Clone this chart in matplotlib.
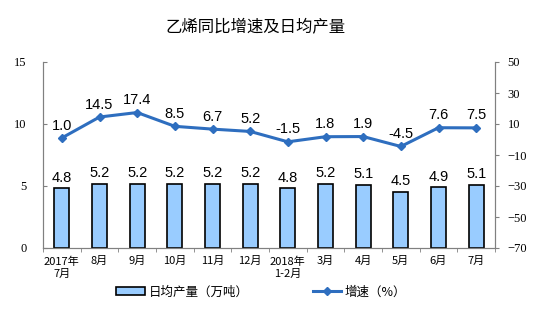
import numpy as np
import matplotlib.pyplot as plt

# %% data
# -------
months = ['2017年\n7月', '8月', '9月', '10月', '11月', '12月', '2018年\n1-2月',
          '3月', '4月', '5月', '6月', '7月']
output = [4.8, 5.2, 5.2, 5.2, 5.2, 5.2, 4.8, 5.2, 5.1, 4.5, 4.9, 5.1]
growth = [1.0, 14.5, 17.4, 8.5, 6.7, 5.2, -1.5, 1.8, 1.9, -4.5, 7.6, 7.5]

plt.rcParams['font.family'] = ['Noto Sans CJK SC', 'DejaVu Sans']

# %% figure
# ---------
fig = plt.figure(figsize=(5.41, 3.24), dpi=100)
ax = fig.add_axes([43 / 541, 1 - 248 / 324, 452 / 541, 186 / 324])
ax2 = ax.twinx()

x = np.arange(len(months))
bars = ax.bar(x, output, width=0.4, color='#99CCFF', edgecolor='black',
              linewidth=1.2, zorder=2)
line, = ax2.plot(x, growth, color='#2E6EBF', linewidth=2.2, marker='D',
                 markersize=4.5, zorder=3)

for xi, v in zip(x, output):
    ax.text(xi, v + 0.3, f'{v:.1f}', ha='center', va='bottom',
            fontsize=10.5, family='Liberation Sans')
for xi, v in zip(x, growth):
    ax2.text(xi, v + 3.5, f'{v:.1f}', ha='center', va='bottom',
             fontsize=10.5, family='Liberation Sans')

ax.set_xlim(-0.5, len(months) - 0.5)
ax.set_ylim(0, 15)
ax.set_yticks([0, 5, 10, 15])
ax2.set_ylim(-70, 50)
ax2.set_yticks(range(-70, 51, 20))

ax.set_xticks(x)
ax.set_xticklabels(months, fontsize=8, linespacing=1.25)
ax.set_xticks(np.arange(-0.5, len(months)), minor=True)
ax.tick_params(axis='x', which='major', length=0, pad=6)
ax.tick_params(axis='x', which='minor', length=3, color='#808080')
ax.tick_params(axis='y', labelsize=9, length=3, colors='#808080',
               labelcolor='black', direction='in', pad=12,
               labelfontfamily='Liberation Serif')
ax2.tick_params(axis='y', labelsize=9, length=3, colors='#808080',
                labelcolor='black', direction='out', pad=6,
                labelfontfamily='Liberation Serif')

for a in (ax, ax2):
    a.spines['top'].set_visible(False)
    for s in ('left', 'right', 'bottom'):
        a.spines[s].set_color('#808080')

fig.text(256 / 541, 1 - 28 / 324, '乙烯同比增速及日均产量', fontsize=11.8,
         ha='center', va='center')

fig.legend([bars, line], ['日均产量（万吨）', '增速（%）'], loc='center left',
           bbox_to_anchor=(105 / 541, 1 - 292 / 324), ncol=2, frameon=False,
           fontsize=9, handlelength=2.3, handleheight=0.6,
           columnspacing=5.1, handletextpad=0.3)

plt.savefig('out.png', dpi=100)
